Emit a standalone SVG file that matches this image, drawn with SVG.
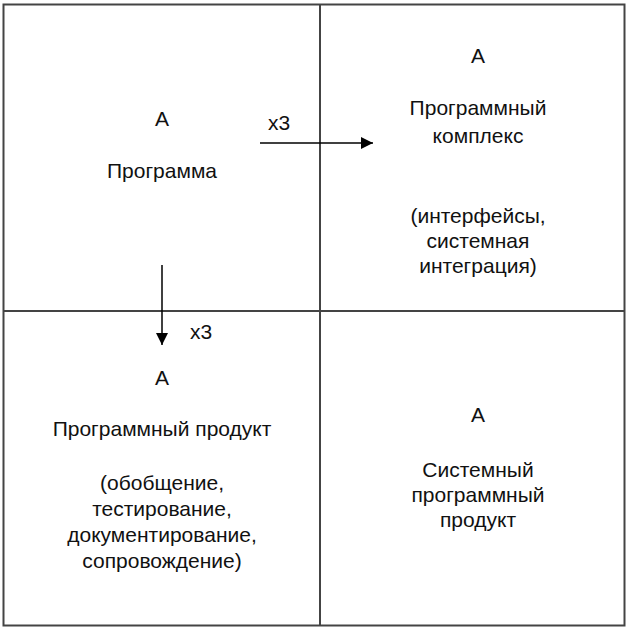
<svg xmlns="http://www.w3.org/2000/svg" width="628" height="629" viewBox="0 0 628 629">
<defs>
<style>
.grid{fill:none;stroke:#444;stroke-width:2}
.t{font-family:"Liberation Sans",Arial,sans-serif;font-size:21px;fill:#111;text-anchor:middle}
.lbl{font-family:"Liberation Sans",Arial,sans-serif;font-size:21px;fill:#111}
.conn{stroke:#000;stroke-width:1.5;fill:none}
</style>
<marker id="ah" viewBox="0 0 10 10" refX="10" refY="5" markerWidth="14" markerHeight="12" markerUnits="userSpaceOnUse" orient="auto">
<path d="M0,0 L10,5 L0,10 Z" fill="#000"/>
</marker>
</defs>
<rect width="628" height="629" fill="#fff"/>
<g id="grid">
<rect class="grid" x="3.5" y="4.5" width="621" height="621"/>
<line class="grid" x1="320" y1="4.5" x2="320" y2="625.5"/>
<line class="grid" x1="3.5" y1="311" x2="624.5" y2="311"/>
</g>
<g id="node-program">
<text class="t" x="162" y="126">A</text>
<text class="t" x="162" y="178">Программа</text>
</g>
<g id="node-complex">
<text class="t" x="478" y="63">A</text>
<text class="t" x="478" y="115">Программный</text>
<text class="t" x="478" y="143">комплекс</text>
<text class="t" x="478" y="223">(интерфейсы,</text>
<text class="t" x="478" y="248">системная</text>
<text class="t" x="478" y="273">интеграция)</text>
</g>
<g id="node-product">
<text class="t" x="162" y="385">A</text>
<text class="t" x="162" y="436">Программный продукт</text>
<text class="t" x="162" y="490">(обобщение,</text>
<text class="t" x="162" y="516">тестирование,</text>
<text class="t" x="162" y="542">документирование,</text>
<text class="t" x="162" y="568">сопровождение)</text>
</g>
<g id="node-system">
<text class="t" x="478" y="422">A</text>
<text class="t" x="478" y="477">Системный</text>
<text class="t" x="478" y="502">программный</text>
<text class="t" x="478" y="527">продукт</text>
</g>
<g id="connectors">
<line class="conn" x1="260" y1="143" x2="373" y2="143" marker-end="url(#ah)"/>
<text class="lbl" x="268" y="130">x3</text>
<line class="conn" x1="162" y1="265" x2="162" y2="345" marker-end="url(#ah)"/>
<text class="lbl" x="190" y="339">x3</text>
</g>
</svg>
